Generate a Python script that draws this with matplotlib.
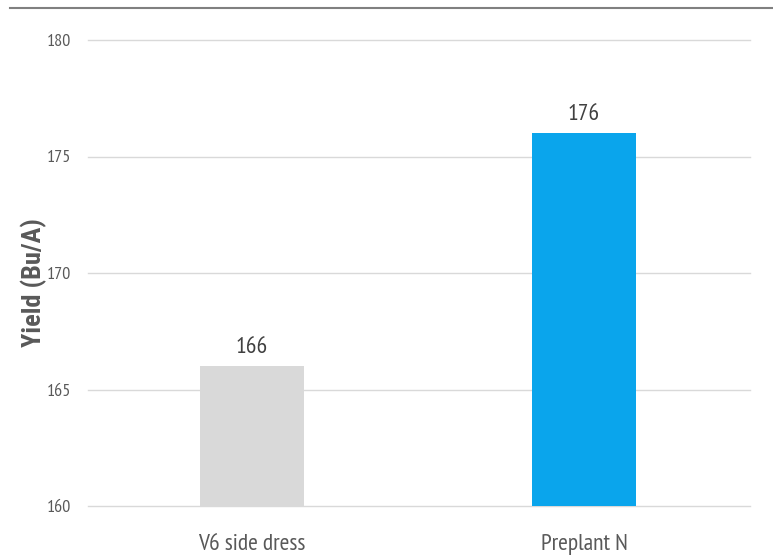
import matplotlib
matplotlib.use("Agg")
import matplotlib.pyplot as plt

categories = ["V6 side dress", "Preplant N"]
values = [166, 176]
colors = ["#d9d9d9", "#0aa5ec"]
yticks = [160, 165, 170, 175, 180]

narrow = ["PT Sans Narrow", "DejaVu Sans"]

fig = plt.figure(figsize=(7.73, 5.57), dpi=100)
ax = fig.add_axes([88/773, 1-506/557, (750-88)/773, (506-40)/557])

x = list(range(len(categories)))
ax.bar(x, values, width=0.313, color=colors, zorder=3)
for xi, v in zip(x, values):
    ax.text(xi, v + 0.35, f"{v}", ha="center", va="bottom", fontsize=17,
            color="#404040", family=narrow)

ax.set_ylim(160, 180)
ax.set_xlim(-0.494, 1.5)
ax.set_yticks(yticks)
ax.set_yticklabels([str(t) for t in yticks], family=narrow, fontsize=13, color="#595959")
ax.set_xticks(x)
ax.set_xticklabels(categories, family=narrow, fontsize=17, color="#595959")
ax.tick_params(axis="both", length=0)
ax.tick_params(axis="y", pad=12)
ax.tick_params(axis="x", pad=20)
ax.grid(axis="y", color="#d9d9d9", linewidth=1, zorder=0)
for gl in ax.get_ygridlines():
    gl.set_clip_on(False)
for s in ax.spines.values():
    s.set_visible(False)

ax.set_ylabel("Yield (Bu/A)", fontsize=19, fontweight="bold", color="#595959",
              family=["Roboto Condensed", "DejaVu Sans"])
ax.yaxis.set_label_coords(-0.062, 0.48)

fig.add_artist(plt.Line2D([10/773, 1.0], [1-8/557, 1-8/557], color="#808080",
                          linewidth=1.5, transform=fig.transFigure))

fig.savefig("out.png", dpi=100)
